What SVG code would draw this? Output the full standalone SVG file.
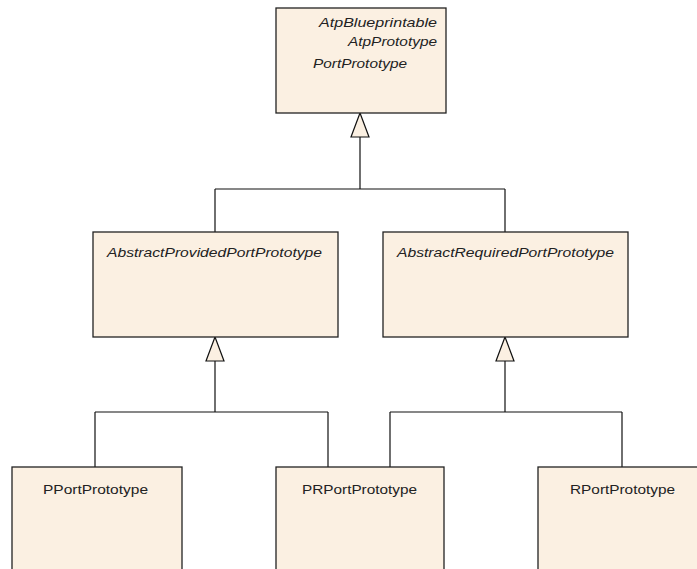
<svg xmlns="http://www.w3.org/2000/svg" width="697" height="569" viewBox="0 0 697 569">
<style>
.box{fill:#FBF0E2;stroke:#222;stroke-width:1.3}
.t{font-family:"Liberation Sans",Arial,sans-serif;font-size:13px;fill:#222}
.i{font-style:italic}
.ln{fill:none;stroke:#111;stroke-width:1.2}
.tri{fill:#FBF0E2;stroke:#111;stroke-width:1.2}
</style>
<rect width="697" height="569" fill="#fff"/>
<g id="connectors">
<path class="ln" d="M360,137 V189 M215,189 H505 M215,189 V232 M505,189 V232"/>
<polygon class="tri" points="360,113 351,137 369,137"/>
<path class="ln" d="M215,361 V412 M95,412 H328 M95,412 V467 M328,412 V467"/>
<polygon class="tri" points="215,337 206,361 224,361"/>
<path class="ln" d="M505,361 V412 M390,412 H622 M390,412 V467 M622,412 V467"/>
<polygon class="tri" points="505,337 496,361 514,361"/>
</g>
<g id="PortPrototype">
<rect class="box" x="276" y="8" width="170" height="105"/>
<text class="t i" x="319" y="26.5" textLength="118" lengthAdjust="spacingAndGlyphs">AtpBlueprintable</text>
<text class="t i" x="348" y="45.5" textLength="89" lengthAdjust="spacingAndGlyphs">AtpPrototype</text>
<text class="t i" x="313" y="68" textLength="94" lengthAdjust="spacingAndGlyphs">PortPrototype</text>
</g>
<g id="AbstractProvidedPortPrototype">
<rect class="box" x="93" y="232" width="245" height="105"/>
<text class="t i" x="107" y="257" textLength="215" lengthAdjust="spacingAndGlyphs">AbstractProvidedPortPrototype</text>
</g>
<g id="AbstractRequiredPortPrototype">
<rect class="box" x="383" y="232" width="245" height="105"/>
<text class="t i" x="397" y="257" textLength="217" lengthAdjust="spacingAndGlyphs">AbstractRequiredPortPrototype</text>
</g>
<g id="PPortPrototype">
<rect class="box" x="12" y="467" width="170" height="110"/>
<text class="t" x="43" y="494" textLength="105" lengthAdjust="spacingAndGlyphs">PPortPrototype</text>
</g>
<g id="PRPortPrototype">
<rect class="box" x="276" y="467" width="168" height="110"/>
<text class="t" x="302" y="494" textLength="115" lengthAdjust="spacingAndGlyphs">PRPortPrototype</text>
</g>
<g id="RPortPrototype">
<rect class="box" x="538" y="467" width="170" height="110"/>
<text class="t" x="570" y="494" textLength="105" lengthAdjust="spacingAndGlyphs">RPortPrototype</text>
</g>
</svg>
